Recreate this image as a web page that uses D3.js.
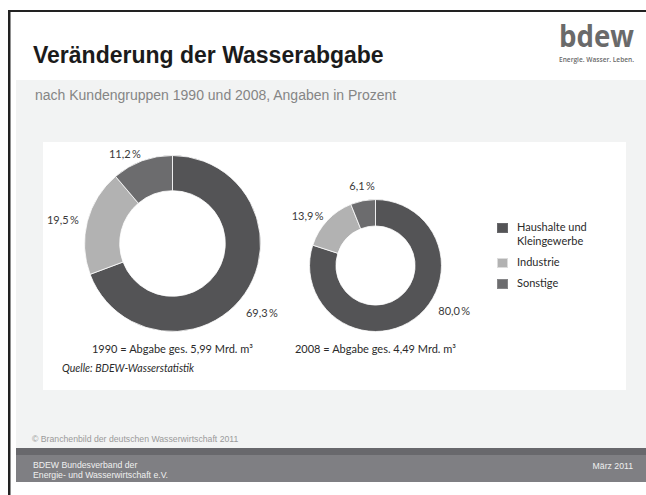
<!DOCTYPE html>
<html>
<head>
<meta charset="utf-8">
<script src="https://cdn.jsdelivr.net/npm/d3@7"></script>
<style>
    body { margin: 0; background: #fff; }
    svg { display: block; }
</style>
</head>
<body>
<script>
// data
const categories = ["Haushalte und Kleingewerbe", "Industrie", "Sonstige"];
const years = [1990, 2008];
const shares1990 = [69.3, 19.5, 11.2];
const shares2008 = [80.0, 13.9, 6.1];
const totals = [5.99, 4.49];

const width = 646;
const height = 495;
const chartFont = "Lato, 'Open Sans', sans-serif";
const slideFont = "'Liberation Sans', Arial, sans-serif";

// label placement around each ring: angle shift (deg) from slice middle, radius factor
const labelLayout = {
    1990: [[3, 1.284], [-2.6, 1.273], [-8, 1.148]],
    2008: [[-24, 1.379], [-7, 1.273], [1.4, 1.227]]
};

const de = d3.formatLocale({ decimal: ",", thousands: ".", grouping: [3], currency: ["", " €"] });
const pct = (v) => de.format(".1f")(v) + "\u2009%";
const amount = de.format(".2f");

const svg = d3.select("body")
    .append("svg")
    .attr("width", width)
    .attr("height", height);

// slide frame
svg.append("rect").attr("x", 8).attr("y", 10).attr("width", width - 8).attr("height", 2).attr("fill", "#222");
svg.append("rect").attr("x", 8).attr("y", 10).attr("width", 2.5).attr("height", height - 10).attr("fill", "#222");

svg.append("rect").attr("x", 16).attr("y", 80).attr("width", width - 16).attr("height", 368).attr("fill", "#f2f3f3");
svg.append("rect").attr("x", 43).attr("y", 142).attr("width", 583).attr("height", 248).attr("fill", "#fff");

svg.append("text")
    .attr("x", 33).attr("y", 63)
    .style("font-family", slideFont).style("font-weight", "bold").style("font-size", "23px")
    .attr("fill", "#1b1b1b")
    .text("Veränderung der Wasserabgabe");

svg.append("text")
    .attr("x", 35).attr("y", 100)
    .style("font-family", slideFont).style("font-size", "14px")
    .attr("fill", "#858585")
    .text("nach Kundengruppen 1990 und 2008, Angaben in Prozent");

// logo
svg.append("text")
    .attr("x", 559).attr("y", 47)
    .attr("textLength", 75).attr("lengthAdjust", "spacingAndGlyphs")
    .style("font-family", "'Open Sans', sans-serif").style("font-weight", 700).style("font-size", "31px")
    .attr("fill", "#6a6a6a")
    .text("bdew");
svg.append("text")
    .attr("x", 559).attr("y", 62)
    .attr("textLength", 75).attr("lengthAdjust", "spacingAndGlyphs")
    .style("font-family", "'Open Sans', sans-serif").style("font-weight", 600).style("font-size", "6.5px")
    .attr("fill", "#6a6a6a")
    .text("Energie. Wasser. Leben.");

// donuts
const color = d3.scaleOrdinal()
    .domain(categories)
    .range(["#545456", "#b2b2b2", "#6c6c6e"]);

const xScale = d3.scalePoint()
    .domain(years)
    .range([172.5, 375.5]);

const rScale = d3.scaleLinear()
    .domain([0, d3.max(totals)])
    .range([0, 88]);

const baseY = 331.5;
const holeRatio = 0.6;

const pie = d3.pie().sort(null).value((d) => d.value);

const series = [shares1990, shares2008];

years.forEach((year, i) => {
    const r = rScale(totals[i]);
    const cx = xScale(year);
    const cy = baseY - r;
    const slices = pie(categories.map((c, j) => ({ category: c, value: series[i][j] })));

    const arc = d3.arc().innerRadius(r * holeRatio).outerRadius(r);

    const g = svg.append("g")
        .attr("transform", `translate(${cx},${cy})`);

    g.selectAll("path")
        .data(slices)
        .enter()
        .append("path")
        .attr("d", arc)
        .attr("fill", (d) => color(d.data.category))
        .attr("stroke", "#fff")
        .attr("stroke-width", 0.8);

    g.selectAll("text.value")
        .data(slices)
        .enter()
        .append("text")
        .attr("class", "value")
        .attr("transform", (d, j) => {
            const [shift, k] = labelLayout[year][j];
            const a = (d.startAngle + d.endAngle) / 2 + shift * Math.PI / 180;
            const labelArc = d3.arc().innerRadius(r * k).outerRadius(r * k);
            const [x, y] = labelArc.centroid({ startAngle: a, endAngle: a });
            return `translate(${x},${y})`;
        })
        .attr("dy", "0.36em")
        .attr("text-anchor", "middle")
        .style("font-family", chartFont).style("font-size", "11px")
        .attr("fill", "#3a3a3a")
        .text((d) => pct(d.data.value));

    svg.append("text")
        .attr("x", cx).attr("y", 353)
        .attr("text-anchor", "middle")
        .style("font-family", chartFont).style("font-size", "11px")
        .attr("fill", "#2a2a2a")
        .text(`${year} = Abgabe ges. ${amount(totals[i])} Mrd. m³`);
});

svg.append("text")
    .attr("x", 62).attr("y", 372)
    .style("font-family", chartFont).style("font-style", "italic").style("font-size", "10.5px")
    .attr("fill", "#2a2a2a")
    .text("Quelle: BDEW-Wasserstatistik");

// legend
const legend = svg.append("g").attr("id", "legend");
const legendY = [223, 258, 279];
categories.forEach((c, i) => {
    legend.append("rect")
        .attr("x", 497.5).attr("y", legendY[i] + 0.5)
        .attr("width", 10).attr("height", 9)
        .attr("fill", color(c))
        .attr("stroke", d3.color(color(c)).brighter(0.6))
        .attr("stroke-width", 1);
    const lines = c.length > 12 ? [c.slice(0, c.indexOf(" und") + 4), c.slice(c.indexOf(" und") + 5)] : [c];
    const t = legend.append("text")
        .attr("x", 517).attr("y", legendY[i] + 8)
        .style("font-family", chartFont).style("font-size", "11px")
        .attr("fill", "#2a2a2a");
    lines.forEach((line, j) => {
        t.append("tspan").attr("x", 517).attr("dy", j ? 14 : 0).text(line);
    });
});

// footer
svg.append("text")
    .attr("x", 32).attr("y", 442)
    .style("font-family", slideFont).style("font-size", "8.7px")
    .attr("fill", "#9a9a9a")
    .text("© Branchenbild der deutschen Wasserwirtschaft 2011");

svg.append("rect").attr("x", 16).attr("y", 448).attr("width", width - 16).attr("height", 7).attr("fill", "#68686c");
svg.append("rect").attr("x", 16).attr("y", 455).attr("width", width - 16).attr("height", 27).attr("fill", "#7f7f83");

svg.append("text")
    .attr("x", 33).attr("y", 468)
    .style("font-family", slideFont).style("font-size", "8.7px")
    .attr("fill", "#f0f0f0")
    .text("BDEW Bundesverband der");
svg.append("text")
    .attr("x", 33).attr("y", 478)
    .style("font-family", slideFont).style("font-size", "8.7px")
    .attr("fill", "#f0f0f0")
    .text("Energie- und Wasserwirtschaft e.V.");
svg.append("text")
    .attr("x", 633).attr("y", 469)
    .attr("text-anchor", "end")
    .style("font-family", slideFont).style("font-size", "8.7px")
    .attr("fill", "#f0f0f0")
    .text("März 2011");
</script>
</body>
</html>
